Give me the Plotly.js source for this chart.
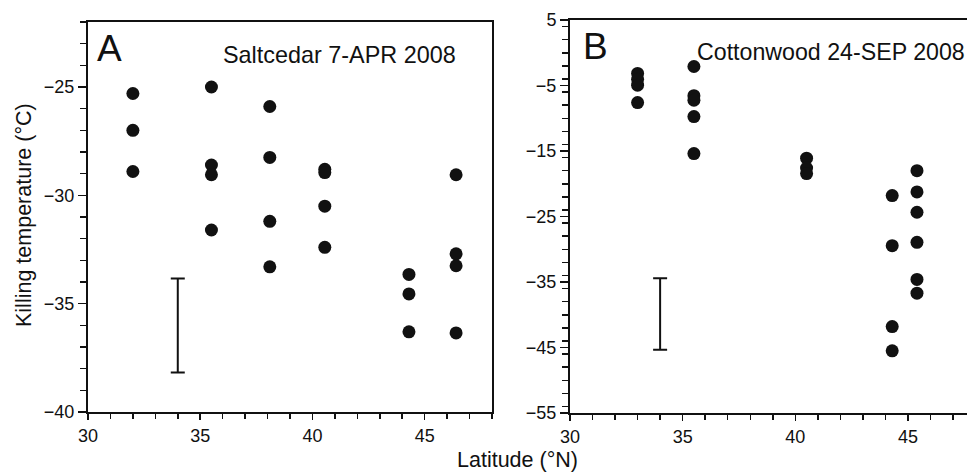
<!DOCTYPE html>
<html>
<head>
<meta charset="utf-8">
<script src="https://cdn.plot.ly/plotly-3.0.1.min.js"></script>
<style>
  html, body { margin: 0; padding: 0; background: #fff; }
  #chart { width: 967px; height: 472px; }
</style>
</head>
<body>
<div id="chart"></div>
<script>
// Panel A: Saltcedar 7-APR 2008
const latA = [32, 32, 32,
              35.5, 35.5, 35.5, 35.5,
              38.1, 38.1, 38.1, 38.1,
              40.55, 40.55, 40.55, 40.55,
              44.3, 44.3, 44.3,
              46.4, 46.4, 46.4, 46.4];
const tempA = [-25.3, -27.0, -28.9,
               -25.0, -28.6, -29.05, -31.6,
               -25.9, -28.25, -31.2, -33.3,
               -28.8, -28.95, -30.5, -32.4,
               -33.65, -34.55, -36.3,
               -29.05, -32.7, -33.25, -36.35];

// Panel B: Cottonwood 24-SEP 2008
const latB = [33, 33, 33, 33,
              35.5, 35.5, 35.5, 35.5, 35.5,
              40.5, 40.5, 40.5,
              44.3, 44.3, 44.3, 44.3,
              45.4, 45.4, 45.4, 45.4, 45.4, 45.4];
const tempB = [-3.15, -4.05, -4.95, -7.6,
               -2.1, -6.55, -7.25, -9.75, -15.4,
               -16.1, -17.6, -18.45,
               -21.8, -29.45, -41.8, -45.5,
               -18.0, -21.25, -24.35, -28.95, -34.6, -36.7];

// Error bars shown in each panel
const errLatA = [34];
const errTopA = [-33.84];
const errBotA = [-38.18];
const errLatB = [34];
const errTopB = [-34.44];
const errBotB = [-45.33];

// Tick values
const xTicks = [30, 35, 40, 45];
const yTicksA = [-40, -35, -30, -25];
const yTicksB = [-55, -45, -35, -25, -15, -5, 5];

const W = 967, H = 472;
const FONT = 'Liberation Sans, Arial, Helvetica, sans-serif';
const INK = '#111111';

function mid(t, b) { return t.map((v, i) => (v + b[i]) / 2); }
function half(t, b) { return t.map((v, i) => (v - b[i]) / 2); }

const markerStyle = { color: INK, size: 13 };

const traces = [
  { x: latA, y: tempA, xaxis: 'x', yaxis: 'y', type: 'scatter', mode: 'markers',
    marker: markerStyle, hoverinfo: 'x+y' },
  { x: latB, y: tempB, xaxis: 'x2', yaxis: 'y2', type: 'scatter', mode: 'markers',
    marker: markerStyle, hoverinfo: 'x+y' },
  { x: errLatA, y: mid(errTopA, errBotA), xaxis: 'x', yaxis: 'y', type: 'scatter', mode: 'markers',
    marker: { size: 0.1, color: 'rgba(0,0,0,0)' },
    error_y: { type: 'data', array: half(errTopA, errBotA), visible: true, color: INK, thickness: 2, width: 7 } },
  { x: errLatB, y: mid(errTopB, errBotB), xaxis: 'x2', yaxis: 'y2', type: 'scatter', mode: 'markers',
    marker: { size: 0.1, color: 'rgba(0,0,0,0)' },
    error_y: { type: 'data', array: half(errTopB, errBotB), visible: true, color: INK, thickness: 2, width: 7 } }
];

const axisCommon = {
  showgrid: false, zeroline: false, showline: true, linecolor: INK, linewidth: 2,
  ticks: 'outside', tickcolor: INK, tickwidth: 1.5,
  tickfont: { family: FONT, size: 18, color: INK },
  fixedrange: true
};

const layout = {
  width: W, height: H,
  margin: { l: 0, r: 0, t: 0, b: 0 },
  paper_bgcolor: '#fff', plot_bgcolor: '#fff',
  showlegend: false,
  xaxis: Object.assign({}, axisCommon, {
    domain: [88 / W, 492 / W], range: [30, 48], anchor: 'y',
    tickvals: xTicks, ticklen: 6, mirror: true,
    minor: { dtick: 1, ticks: 'outside', ticklen: 4.5, tickwidth: 1.5, tickcolor: INK }
  }),
  yaxis: Object.assign({}, axisCommon, {
    domain: [1 - 412 / H, 1 - 22 / H], range: [-40, -22], anchor: 'x',
    tickvals: yTicksA, ticklen: 8, mirror: true, ticklabelstandoff: 0,
    minor: { dtick: 1, ticks: 'outside', ticklen: 6, tickwidth: 1.5, tickcolor: INK }
  }),
  xaxis2: Object.assign({}, axisCommon, {
    domain: [570 / W, 1], range: [30, 47.62], anchor: 'y2',
    tickvals: xTicks, ticklen: 6, mirror: true,
    minor: { dtick: 1, ticks: 'outside', ticklen: 4.5, tickwidth: 1.5, tickcolor: INK }
  }),
  yaxis2: Object.assign({}, axisCommon, {
    domain: [1 - 413 / H, 1 - 20 / H], range: [-55, 5], anchor: 'x2',
    tickvals: yTicksB, ticklen: 8, mirror: false, ticklabelstandoff: 0,
    minor: { dtick: 2, ticks: 'outside', ticklen: 6, tickwidth: 1.5, tickcolor: INK }
  }),
  annotations: [
    { text: 'A', xref: 'paper', yref: 'paper', x: 95 / W, y: 1 - 48.5 / H,
      xanchor: 'left', yanchor: 'middle', showarrow: false,
      font: { family: FONT, size: 37, color: INK } },
    { text: 'Saltcedar 7-APR 2008', xref: 'paper', yref: 'paper', x: 221 / W, y: 1 - 55.5 / H,
      xanchor: 'left', yanchor: 'middle', showarrow: false,
      font: { family: FONT, size: 23.4, color: INK } },
    { text: 'B', xref: 'paper', yref: 'paper', x: 581 / W, y: 1 - 46.5 / H,
      xanchor: 'left', yanchor: 'middle', showarrow: false,
      font: { family: FONT, size: 37, color: INK } },
    { text: 'Cottonwood 24-SEP 2008', xref: 'paper', yref: 'paper', x: 695 / W, y: 1 - 52.3 / H,
      xanchor: 'left', yanchor: 'middle', showarrow: false,
      font: { family: FONT, size: 23.2, color: INK } },
    { text: 'Killing temperature (°C)', xref: 'paper', yref: 'paper', x: 24 / W, y: 1 - 215 / H,
      xanchor: 'center', yanchor: 'middle', textangle: -90, showarrow: false,
      font: { family: FONT, size: 21.5, color: INK } },
    { text: 'Latitude (°N)', xref: 'paper', yref: 'paper', x: 517.5 / W, y: 1 - 460 / H,
      xanchor: 'center', yanchor: 'middle', showarrow: false,
      font: { family: FONT, size: 21.5, color: INK } }
  ]
};

Plotly.newPlot('chart', traces, layout, { displayModeBar: false, staticPlot: true });
</script>
</body>
</html>
